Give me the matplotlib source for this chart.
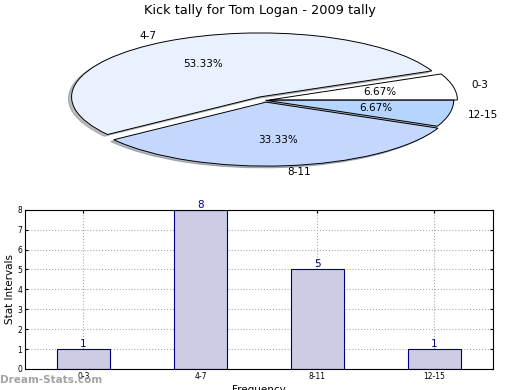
import matplotlib
matplotlib.use("Agg")
import matplotlib.pyplot as plt

# tally data
intervals = ["0-3", "4-7", "8-11", "12-15"]
counts = [1, 8, 5, 1]
pie_colors = ["#FFFFFF", "#EAF1FE", "#C4D8FE", "#B5D5FE"]
explode = [0.02, 0.06, 0.03, 0.0]

title = "Kick tally for Tom Logan - 2009 tally"

fig = plt.figure(figsize=(5.2, 3.9), dpi=100)

# pie (squashed into an ellipse)
ax_pie = fig.add_axes([0.058, 0.538, 0.905, 0.41])
wedges, texts, autotexts = ax_pie.pie(
    counts, labels=intervals, colors=pie_colors, explode=explode,
    autopct="%.2f%%", pctdistance=0.6, labeldistance=1.1, startangle=0,
    shadow={"ox": -0.012, "oy": -0.02, "shade": 0.5},
    wedgeprops={"edgecolor": "black", "linewidth": 0.7},
    textprops={"fontsize": 7.5})
ax_pie.set_aspect("auto")
ax_pie.set_xlim(-1.25, 1.25)
ax_pie.set_ylim(-1.25, 1.25)
fig.text(0.5, 0.972, title, ha="center", va="center", fontsize=9.3)

# bar chart
ax = fig.add_axes([0.048, 0.054, 0.9, 0.408])
ax.set_axisbelow(True)
pos = range(len(intervals))
ax.bar(pos, counts, width=0.45, color="#CCCCE5", edgecolor="#000080", linewidth=0.8)
for p, c in zip(pos, counts):
    ax.text(p, c, str(c), ha="center", va="bottom", color="#000080", fontsize=7.5)
ax.set_xlim(-0.5, 3.5)
ax.set_ylim(0, 8)
ax.set_xticks(list(pos))
ax.set_xticklabels(intervals)
ax.set_yticks(range(0, 9))
ax.tick_params(labelsize=5.5, direction="in", top=True, right=True, length=2, pad=2)
ax.grid(True, linestyle=":", color="#AAAAAA", linewidth=0.8)
ax.set_ylabel("Stat Intervals", fontsize=7.5, labelpad=2)
ax.set_xlabel("Frequency", fontsize=7.5, labelpad=3)

fig.text(0.0, 0.026, "Dream-Stats.com", color="#999999", fontsize=7.5,
         fontweight="bold", ha="left", va="center", alpha=0.9)

fig.savefig("out.png", dpi=100)
